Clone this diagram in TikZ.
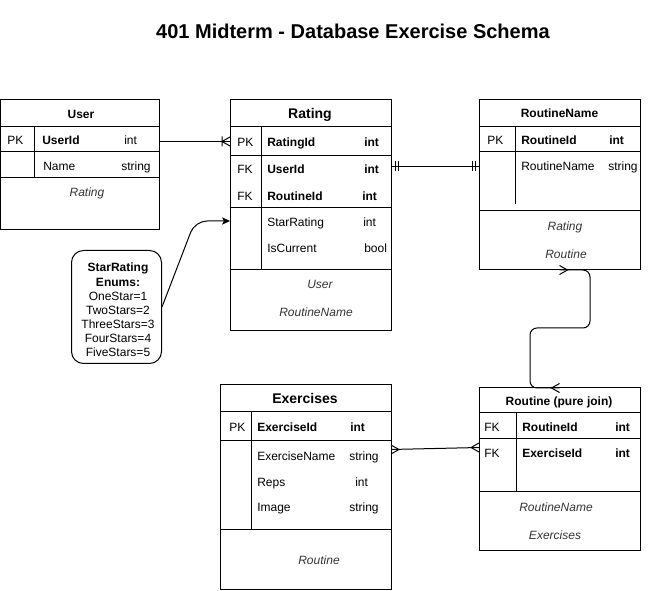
\documentclass[tikz,border=0pt]{standalone}
\usepackage{fontspec}
\setmainfont{Liberation Sans}
\usetikzlibrary{arrows.meta,calc}
\newcounter{tn}
% #1 options, #2 x, #3 y (visual centre), #4 text
\newcommand\mytxt[4][]{\stepcounter{tn}\node[txt,#1] (t\arabic{tn}) at (#2,#3+4.3) {#4};}
\newcommand\myhead[4][]{\stepcounter{tn}\node[txt,#1] (t\arabic{tn}) at (#2,#3+5) {#4};}
\tikzset{
  txt/.style={anchor=base west, inner sep=0pt, font=\fontsize{9}{10.5}\selectfont},
  ctr/.style={anchor=base},
  fb/.style={font=\fontsize{9}{10.5}\selectfont\bfseries},
  hb/.style={font=\fontsize{10.5}{12}\selectfont\bfseries},
  it/.style={font=\fontsize{9}{10.5}\selectfont\itshape, text=black!80},
  tbl/.style={draw, line width=0.75pt, anchor=north west, inner sep=0pt, outer sep=0pt},
  ln/.style={line width=0.75pt},
  conn/.style={line width=0.75pt},
  many/.pic={\draw[line width=0.75pt] (0,-4.5) -- (-8,0) -- (0,4.5);},
  onemany/.pic={\draw[line width=0.75pt] (0,-4.5) -- (-8,0) -- (0,4.5) (-8,-5) -- (-8,5);},
  mandone/.pic={\draw[line width=0.75pt] (-4,-5) -- (-4,5) (-7,-5) -- (-7,5);},
}
\begin{document}
\begin{tikzpicture}[x=0.75pt,y=-0.75pt]
\useasboundingbox (0,0) rectangle (668,591);

% title
\node[anchor=base, inner sep=0pt, font=\fontsize{15}{18}\selectfont\bfseries] (title) at (353,38.3) {401 Midterm - Database Exercise Schema};

% ---------- User ----------
\node[tbl, minimum width=119.6pt, minimum height=97.5pt] (user) at (0.5,100) {};
\draw[ln] (0.5,127) -- (160,127) (0.5,152) -- (160,152) (0.5,178) -- (160,178) (34.5,127) -- (34.5,178);
\mytxt[ctr,fb]{81}{114}{User}
\mytxt{7}{140}{PK}
\mytxt[fb]{42}{140}{UserId}
\mytxt{124}{140}{int}
\mytxt{43}{166}{Name}
\mytxt{121}{166}{string}
\mytxt[ctr,it]{87}{192}{Rating}

% ---------- Rating ----------
\node[tbl, minimum width=120.75pt, minimum height=173.25pt] (rating) at (230,100) {};
\draw[ln] (230,127) -- (391,127) (230,156) -- (391,156) (230,208) -- (391,208) (230,270) -- (391,270) (261,127) -- (261,270);
\myhead[ctr,hb]{310}{114}{Rating}
\mytxt{237}{142}{PK}
\mytxt[fb]{267}{142}{RatingId}
\mytxt[fb]{364}{142}{int}
\mytxt{237}{169}{FK}
\mytxt[fb]{267}{169}{UserId}
\mytxt[fb]{364}{169}{int}
\mytxt{237}{196}{FK}
\mytxt[fb]{267}{196}{RoutineId}
\mytxt[fb]{362}{196}{int}
\mytxt{267}{222}{StarRating}
\mytxt{363}{222}{int}
\mytxt{267}{248}{IsCurrent}
\mytxt{364}{248}{bool}
\mytxt[ctr,it]{320}{284}{User}
\mytxt[ctr,it]{316}{312}{RoutineName}

% ---------- RoutineName ----------
\node[tbl, minimum width=120.75pt, minimum height=127.5pt] (rn) at (479,100) {};
\draw[ln] (479,127) -- (640,127) (479,152) -- (640,152) (479,211) -- (640,211) (515,127) -- (515,204);
\mytxt[ctr,fb]{559.5}{113}{RoutineName}
\mytxt{487}{140}{PK}
\mytxt[fb]{521}{140}{RoutineId}
\mytxt[fb]{609}{140}{int}
\mytxt{521}{166}{RoutineName}
\mytxt{608}{166}{string}
\mytxt[ctr,it]{565}{226}{Rating}
\mytxt[ctr,it]{566}{254}{Routine}

% ---------- Exercises ----------
\node[tbl, minimum width=128.25pt, minimum height=153.4pt] (ex) at (220,385) {};
\draw[ln] (220,412) -- (391,412) (220,441) -- (391,441) (220,530) -- (391,530) (251,412) -- (251,530);
\myhead[ctr,hb]{305}{399}{Exercises}
\mytxt{229}{427}{PK}
\mytxt[fb]{257}{427}{ExerciseId}
\mytxt[fb]{350}{427}{int}
\mytxt{257}{456}{ExerciseName}
\mytxt{349}{456}{string}
\mytxt{257}{482}{Reps}
\mytxt{355}{482}{int}
\mytxt{257}{507}{Image}
\mytxt{349}{507}{string}
\mytxt[ctr,it]{319}{560}{Routine}

% ---------- Routine (pure join) ----------
\node[tbl, minimum width=120.75pt, minimum height=122.25pt] (rt) at (479,388) {};
\draw[ln] (479,413) -- (640,413) (479,439) -- (640,439) (479,492) -- (640,492) (516,413) -- (516,492);
\mytxt[ctr,fb]{559}{401}{Routine (pure join)}
\mytxt{484}{427}{FK}
\mytxt[fb]{522}{427}{RoutineId}
\mytxt[fb]{615}{427}{int}
\mytxt{484}{453}{FK}
\mytxt[fb]{522}{453}{ExerciseId}
\mytxt[fb]{615}{453}{int}
\mytxt[ctr,it]{556}{507}{RoutineName}
\mytxt[ctr,it]{555}{535}{Exercises}

% ---------- Enum note ----------
\node[draw, line width=0.75pt, rounded corners=9pt, anchor=north west, inner sep=0pt, minimum width=67.5pt, minimum height=84.75pt] (enum) at (71,250) {};
\mytxt[ctr,fb]{118}{267}{StarRating}
\mytxt[ctr,fb]{118}{282}{Enums:}
\mytxt[ctr]{118}{296}{OneStar=1}
\mytxt[ctr]{118}{310}{TwoStars=2}
\mytxt[ctr]{118}{324}{ThreeStars=3}
\mytxt[ctr]{118}{338}{FourStars=4}
\mytxt[ctr]{118}{352}{FiveStars=5}

% ---------- connectors ----------
\coordinate (yUR) at (0,141.5);
\coordinate (yRR) at (0,166.5);
\coordinate (yEs) at (0,449.5);
\coordinate (yEt) at (0,447.5);
\coordinate (yStar) at (0,221);

% User -> Rating (one to many)
\draw[conn] (user.east |- yUR) -- (rating.west |- yUR);
\pic at (rating.west |- yUR) {onemany};

% Rating -- RoutineName (mandatory one both ends)
\draw[conn] (rating.east |- yRR) -- (rn.west |- yRR);
\pic[rotate=180] at (rating.east |- yRR) {mandone};
\pic at (rn.west |- yRR) {mandone};

% Exercises -- Routine (many both ends)
\draw[conn] (ex.east |- yEs) -- (rt.west |- yEt);
\pic[rotate=180] at (ex.east |- yEs) {many};
\pic at (rt.west |- yEt) {many};

% RoutineName -- Routine (many both ends)
\draw[conn, rounded corners=5.25pt] (rn.south) -- (590,270) -- (590,328) -- (530,328) -- (530,388) -- (rt.north);
\pic[rotate=180] at (rn.south) {many};
\pic at (rt.north) {many};

% Enum note -> Rating.StarRating
\draw[conn, rounded corners=9pt, -{Stealth[length=6pt,width=5.5pt,inset=1.5pt]}] (enum.east) -- (195,221) -- (rating.west |- yStar);

\end{tikzpicture}
\end{document}
